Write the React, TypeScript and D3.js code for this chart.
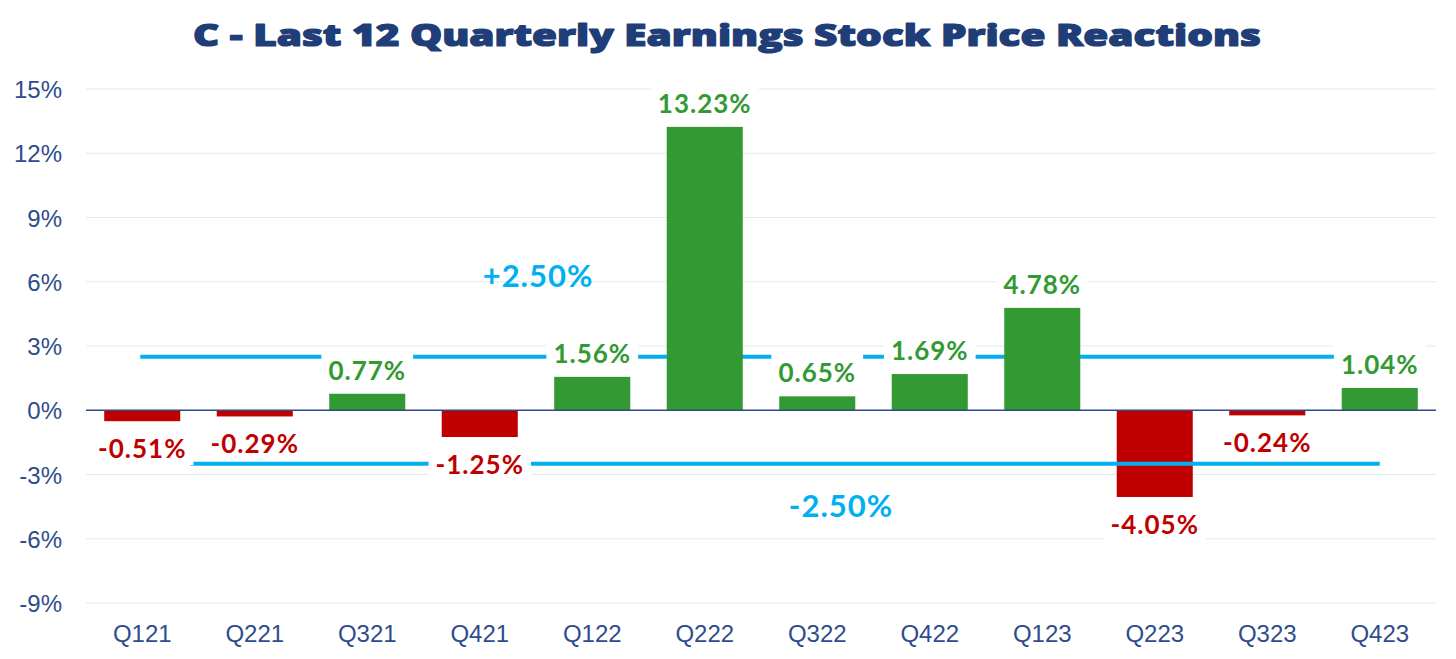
import React, { useEffect, useRef } from "react";
import * as d3 from "d3";

const quarters = ["Q121", "Q221", "Q321", "Q421", "Q122", "Q222", "Q322", "Q422", "Q123", "Q223", "Q323", "Q423"];
const reactions = [-0.51, -0.29, 0.77, -1.25, 1.56, 13.23, 0.65, 1.69, 4.78, -4.05, -0.24, 1.04];
const yTicks = [-9, -6, -3, 0, 3, 6, 9, 12, 15];
const thresholdValues = [2.5, -2.5];
const thresholdLabels = ["+2.50%", "-2.50%"];
const title = "C - Last 12 Quarterly Earnings Stock Price Reactions";

const W = 1456;
const H = 659;

export default function App() {
  const ref = useRef<SVGSVGElement>(null);

  useEffect(() => {
    const svg = d3.select(ref.current);
    svg.selectAll("*").remove();

    const x = d3.scaleBand<string>().domain(quarters).range([86, 1436]).paddingInner(0.324).paddingOuter(0.162);
    const y = d3.scaleLinear().domain([-9, 15]).range([603, 89]);

    const axisColor = "#2E4C8C";
    const green = "#339933";
    const red = "#C00000";
    const cyan = "#00B0F0";

    // title
    svg.append("text")
      .attr("x", 727).attr("y", 46)
      .attr("text-anchor", "middle")
      .attr("font-family", "'Open Sans', Lato, sans-serif")
      .attr("font-weight", 800)
      .attr("font-size", 30)
      .attr("fill", "#1F3E78")
      .attr("stroke", "#1F3E78")
      .attr("stroke-width", 1.2)
      .attr("stroke-linejoin", "round")
      .attr("textLength", 1068)
      .attr("lengthAdjust", "spacingAndGlyphs")
      .text(title);

    // gridlines
    svg.append("g").selectAll("line")
      .data(yTicks.filter((t) => t !== 0))
      .join("line")
      .attr("x1", 86).attr("x2", 1436)
      .attr("y1", (d) => y(d)).attr("y2", (d) => y(d))
      .attr("stroke", "#DDEBF7").attr("stroke-width", 1);

    // y tick labels
    svg.append("g").selectAll("text")
      .data(yTicks)
      .join("text")
      .attr("x", 62).attr("y", (d) => y(d) + 9)
      .attr("text-anchor", "end")
      .attr("font-family", "'Liberation Sans', Arial, sans-serif")
      .attr("font-size", 24)
      .attr("fill", axisColor)
      .text((d) => `${d}%`);

    // x tick labels
    svg.append("g").selectAll("text")
      .data(quarters)
      .join("text")
      .attr("x", (d) => (x(d) as number) + x.bandwidth() / 2)
      .attr("y", 642)
      .attr("text-anchor", "middle")
      .attr("font-family", "'Liberation Sans', Arial, sans-serif")
      .attr("font-size", 24)
      .attr("fill", axisColor)
      .text((d) => d);

    const lineExtents: [number, number][] = [
      [(x(quarters[0]) as number) + x.bandwidth() / 2 - 2, (x(quarters[11]) as number) + x.bandwidth() / 2 - 45],
      [(x(quarters[0]) as number) + x.bandwidth() / 2 + 48, (x(quarters[11]) as number) + x.bandwidth() / 2],
    ];

    const drawThreshold = (i: number) => {
      svg.append("line")
        .attr("x1", lineExtents[i][0]).attr("x2", lineExtents[i][1])
        .attr("y1", y(thresholdValues[i])).attr("y2", y(thresholdValues[i]))
        .attr("stroke", cyan).attr("stroke-width", 4);
    };

    // +2.5 line under bars
    drawThreshold(0);

    // bars
    svg.append("g").selectAll("rect")
      .data(reactions)
      .join("rect")
      .attr("x", (_d, i) => x(quarters[i]) as number)
      .attr("width", x.bandwidth())
      .attr("y", (d) => y(Math.max(0, d)))
      .attr("height", (d) => Math.abs(y(d) - y(0)))
      .attr("fill", (d) => (d >= 0 ? green : red));

    // -2.5 line over bars
    drawThreshold(1);

    // zero line
    svg.append("line")
      .attr("x1", 86).attr("x2", 1436)
      .attr("y1", y(0)).attr("y2", y(0))
      .attr("stroke", "#2F4A87").attr("stroke-width", 1.5);

    // threshold labels
    const thrPos = [
      { cx: 538, dy: -70 },
      { cx: 841, dy: 53 },
    ];
    thresholdLabels.forEach((lab, i) => {
      svg.append("text")
        .attr("x", thrPos[i].cx)
        .attr("y", y(thresholdValues[i]) + thrPos[i].dy)
        .attr("text-anchor", "middle")
        .attr("font-family", "Lato, 'Open Sans', sans-serif")
        .attr("font-weight", 700)
        .attr("font-size", 31)
        .attr("letter-spacing", 1)
        .attr("fill", cyan)
        .text(lab);
    });

    // data labels with white boxes
    const lg = svg.append("g");
    reactions.forEach((v, i) => {
      const cx = (x(quarters[i]) as number) + x.bandwidth() / 2;
      const base = v >= 0 ? y(v) - 14 : y(v) + 37;
      const g = lg.append("g");
      const rect = g.append("rect").attr("fill", "#FFFFFF");
      const t = g.append("text")
        .attr("x", cx).attr("y", base)
        .attr("text-anchor", "middle")
        .attr("font-family", "Lato, 'Open Sans', sans-serif")
        .attr("font-weight", 700)
        .attr("font-size", 26)
        .attr("letter-spacing", 1)
        .attr("fill", v >= 0 ? green : red)
        .text(`${v.toFixed(2)}%`);
      const bb = (t.node() as SVGTextElement).getBBox();
      rect.attr("x", bb.x - 7).attr("width", bb.width + 14)
        .attr("y", base - 29).attr("height", 36);
    });
  }, []);

  return (
    <>
      <style>{`body{margin:0;}`}</style>
      <svg ref={ref} width={W} height={H} style={{ display: "block", background: "#FFFFFF" }} />
    </>
  );
}
